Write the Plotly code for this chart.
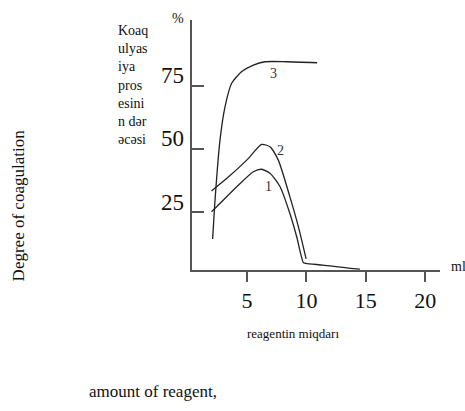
import plotly.graph_objects as go

# --- data ---
curve1_x = [2.0, 2.44, 4.13, 5.53, 6.23, 6.93, 7.78, 8.6, 9.18, 9.74, 9.95, 11.4, 13.7, 14.5]
curve1_y = [25.1, 27.1, 35.0, 40.9, 41.9, 40.3, 35.0, 24.5, 15.2, 5.0, 4.7, 4.0, 2.7, 2.45]

curve2_x = [2.0, 3.3, 4.97, 6.23, 6.93, 7.63, 8.6, 9.32, 9.97]
curve2_y = [33.3, 38.3, 45.5, 51.7, 50.8, 45.5, 31.1, 19.2, 6.5]

curve3_x = [2.1, 2.3, 2.72, 3.14, 3.7, 4.55, 5.53, 6.5, 8.3, 10.9]
curve3_y = [14.3, 29.7, 53.5, 66.6, 75.9, 80.5, 83.1, 84.4, 84.4, 84.0]

curve_names = ["1", "2", "3"]
curve_label_x = [6.8, 7.78, 7.2]
curve_label_y = [35.0, 49.5, 79.8]

x_tick_vals = [5, 10, 15, 20]
x_tick_text = ["5", "10", "15", "20"]
y_tick_vals = [25, 50, 75]
y_tick_text = ["25", "50", "75"]

serif = "Liberation Serif, Times New Roman, serif"

fig = go.Figure()
for xs, ys, nm in [(curve1_x, curve1_y, "1"), (curve2_x, curve2_y, "2"), (curve3_x, curve3_y, "3")]:
    fig.add_trace(go.Scatter(x=xs, y=ys, mode="lines", name=nm,
                             line=dict(color="#222222", width=1.3, shape="spline", smoothing=0.6),
                             showlegend=False, hoverinfo="skip"))

annotations = []
for nm, lx, ly in zip(curve_names, curve_label_x, curve_label_y):
    annotations.append(dict(x=lx, y=ly, xref="x", yref="y", text=nm, showarrow=False,
                            xanchor="center",
                            font=dict(family=serif, size=14, color="#333333")))

for v, t in zip(y_tick_vals, y_tick_text):
    annotations.append(dict(x=-0.078, y=v, xref="paper", yref="y", text=t, showarrow=False,
                            xanchor="center", yshift=10,
                            font=dict(family=serif, size=23, color="#111111")))

annotations += [
    dict(x=-0.056, y=1.005, xref="paper", yref="paper", text="%", showarrow=False,
         xanchor="center", yanchor="middle", font=dict(family=serif, size=14, color="#111111")),
    dict(x=1.035, y=-0.025, xref="paper", yref="paper", text="ml", showarrow=False,
         xanchor="left", font=dict(family=serif, size=14, color="#111111")),
    dict(x=-0.305, y=0.995, xref="paper", yref="paper",
         text="Koaq<br>ulyas<br>iya<br>pros<br>esini<br>n dər<br>əcəsi",
         showarrow=False, xanchor="left", yanchor="top", align="left",
         font=dict(family=serif, size=14, color="#111111")),
    dict(x=-0.70, y=0.26, xref="paper", yref="paper", text="Degree of coagulation",
         textangle=-90, showarrow=False, xanchor="center", yanchor="middle",
         font=dict(family=serif, size=17, color="#111111")),
    dict(x=0.407, y=-0.292, xref="paper", yref="paper", text="reagentin miqdarı",
         showarrow=False, xanchor="center", font=dict(family=serif, size=13, color="#111111")),
    dict(x=-0.423, y=-0.532, xref="paper", yref="paper", text="amount of reagent,",
         showarrow=False, xanchor="left", font=dict(family=serif, size=17, color="#111111")),
]

fig.update_layout(
    width=465, height=411,
    margin=dict(l=192, r=25, t=20, b=141),
    paper_bgcolor="white", plot_bgcolor="white",
    annotations=annotations,
    xaxis=dict(range=[0.36, 21.25], showgrid=False, zeroline=False,
               showline=True, linecolor="#555555", linewidth=2,
               tickmode="array", tickvals=x_tick_vals, ticktext=x_tick_text,
               ticks="outside", ticklen=10, tickwidth=1.5, tickcolor="#555555",
               tickfont=dict(family=serif, size=22, color="#111111")),
    yaxis=dict(range=[2.07, 100.9], showgrid=False, zeroline=False,
               showline=True, linecolor="#555555", linewidth=2,
               tickmode="array", tickvals=y_tick_vals, ticktext=y_tick_text,
               ticks="inside", ticklen=12, tickwidth=1.5, tickcolor="#555555",
               showticklabels=False),
)

fig.write_html("out.html")
